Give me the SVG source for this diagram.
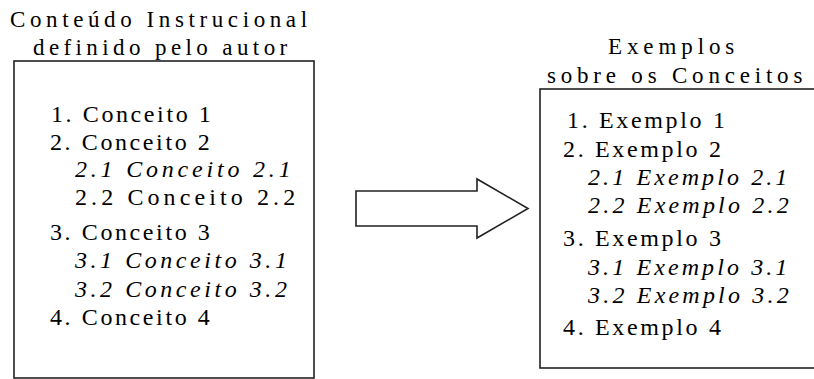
<svg xmlns="http://www.w3.org/2000/svg" width="814" height="379" viewBox="0 0 814 379">
<rect width="814" height="379" fill="#ffffff"/>
<g id="autor">
<rect x="14" y="61" width="300" height="317" fill="#ffffff" stroke="#222222" stroke-width="1.6"/>
<text x="10" y="27" font-family="Liberation Serif" font-size="23" letter-spacing="4.6">Conteúdo Instrucional</text>
<text x="33" y="55" font-family="Liberation Serif" font-size="23" letter-spacing="4.4">definido pelo autor</text>
<text x="51" y="122" font-family="Liberation Serif" font-size="24" letter-spacing="2.6">1. Conceito 1</text>
<text x="50" y="150" font-family="Liberation Serif" font-size="24" letter-spacing="2.6">2. Conceito 2</text>
<text x="75" y="177" font-family="Liberation Serif" font-size="24" font-style="italic" letter-spacing="3.8">2.1 Conceito 2.1</text>
<text x="75" y="205" font-family="Liberation Serif" font-size="24" letter-spacing="4.1">2.2 Conceito 2.2</text>
<text x="50" y="240" font-family="Liberation Serif" font-size="24" letter-spacing="2.6">3. Conceito 3</text>
<text x="75" y="268" font-family="Liberation Serif" font-size="24" font-style="italic" letter-spacing="3.55">3.1 Conceito 3.1</text>
<text x="75" y="297" font-family="Liberation Serif" font-size="24" font-style="italic" letter-spacing="3.55">3.2 Conceito 3.2</text>
<text x="50" y="325" font-family="Liberation Serif" font-size="24" letter-spacing="2.6">4. Conceito 4</text>
</g>
<g id="arrows">
<path d="M356,191 H477 V179 L528,208.5 L477,238 V226 H356 Z" fill="#ffffff" stroke="#222222" stroke-width="1.6"/>
</g>
<g id="exemplos">
<rect x="540" y="89" width="300" height="279" fill="#ffffff" stroke="#222222" stroke-width="1.6"/>
<text x="608" y="54" font-family="Liberation Serif" font-size="23" letter-spacing="4.9">Exemplos</text>
<text x="547" y="83" font-family="Liberation Serif" font-size="23" letter-spacing="4.8">sobre os Conceitos</text>
<text x="567" y="128" font-family="Liberation Serif" font-size="24" letter-spacing="2.66">1. Exemplo 1</text>
<text x="563" y="157" font-family="Liberation Serif" font-size="24" letter-spacing="2.66">2. Exemplo 2</text>
<text x="588" y="185" font-family="Liberation Serif" font-size="24" font-style="italic" letter-spacing="3.1">2.1 Exemplo 2.1</text>
<text x="588" y="213" font-family="Liberation Serif" font-size="24" font-style="italic" letter-spacing="3.2">2.2 Exemplo 2.2</text>
<text x="563" y="246" font-family="Liberation Serif" font-size="24" letter-spacing="2.66">3. Exemplo 3</text>
<text x="588" y="275" font-family="Liberation Serif" font-size="24" font-style="italic" letter-spacing="3.1">3.1 Exemplo 3.1</text>
<text x="588" y="303" font-family="Liberation Serif" font-size="24" font-style="italic" letter-spacing="3.2">3.2 Exemplo 3.2</text>
<text x="563" y="335" font-family="Liberation Serif" font-size="24" letter-spacing="2.66">4. Exemplo 4</text>
</g>
</svg>
